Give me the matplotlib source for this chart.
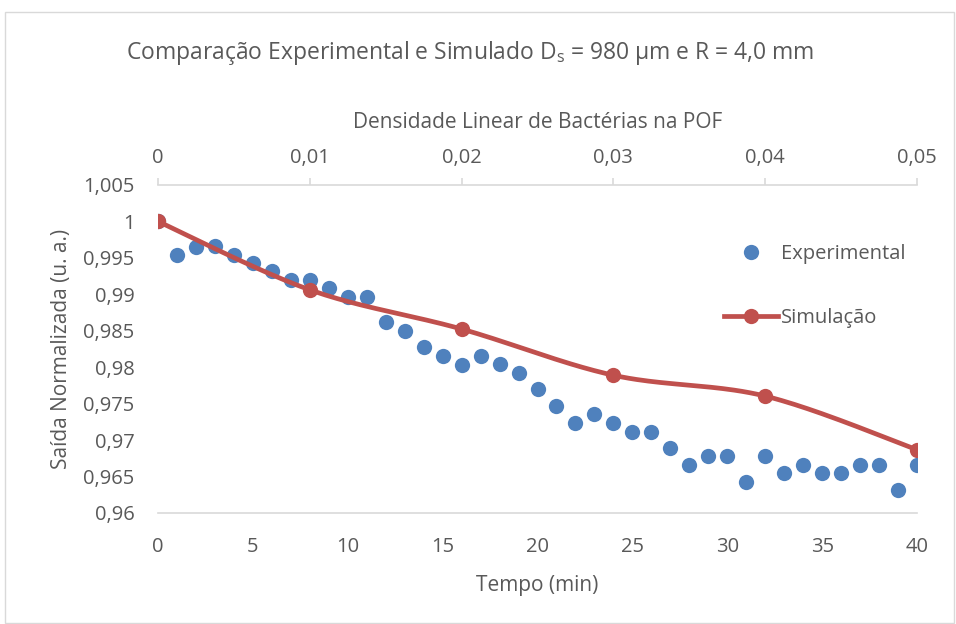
import numpy as np
import matplotlib
matplotlib.use("Agg")
import matplotlib.pyplot as plt
from matplotlib.lines import Line2D
from matplotlib.patches import Rectangle

plt.rcParams['font.family'] = ['Open Sans', 'DejaVu Sans']
plt.rcParams['mathtext.fontset'] = 'custom'
plt.rcParams['mathtext.rm'] = 'Open Sans'

# ---- data ----
tempo = list(range(0, 41))
experimental = [1.0, 0.99545, 0.99651, 0.99659, 0.99545, 0.99434, 0.99320, 0.99200, 0.99200, 0.99086,
                0.98970, 0.98970, 0.98617, 0.98501, 0.98276, 0.98156, 0.98037, 0.98156, 0.98041, 0.97927,
                0.97697, 0.97466, 0.97228, 0.97352, 0.97228, 0.97117, 0.97117, 0.96887, 0.96658, 0.96777,
                0.96777, 0.96423, 0.96777, 0.96542, 0.96658, 0.96542, 0.96542, 0.96658, 0.96658, 0.96317,
                0.96658]
densidade = [0.0, 0.01, 0.02, 0.03, 0.04, 0.05]
simulacao = [1.0, 0.99062, 0.98524, 0.97890, 0.97604, 0.96869]

y_ticks = [0.96, 0.965, 0.97, 0.975, 0.98, 0.985, 0.99, 0.995, 1.0, 1.005]
y_tick_labels = ['0,96', '0,965', '0,97', '0,975', '0,98', '0,985', '0,99', '0,995', '1', '1,005']
x_ticks = [0, 5, 10, 15, 20, 25, 30, 35, 40]
top_ticks = [0.0, 0.01, 0.02, 0.03, 0.04, 0.05]
top_tick_labels = ['0', '0,01', '0,02', '0,03', '0,04', '0,05']

BLUE = '#4F81BD'
RED = '#C0504D'
TXT = '#595959'
AXC = '#D9D9D9'
FS = 14.5


def smooth(x, y, n=40):
    x = np.asarray(x, float)
    y = np.asarray(y, float)
    px = np.concatenate([[x[0]], x, [x[-1]]])
    py = np.concatenate([[y[0]], y, [y[-1]]])
    xs, ys = [], []
    t = np.linspace(0, 1, n)
    for i in range(1, len(px) - 2):
        p0 = np.array([px[i], py[i]])
        p3 = np.array([px[i + 1], py[i + 1]])
        c1 = p0 + (np.array([px[i + 1], py[i + 1]]) - np.array([px[i - 1], py[i - 1]])) / 6
        c2 = p3 - (np.array([px[i + 2], py[i + 2]]) - np.array([px[i], py[i]])) / 6
        b = ((1 - t) ** 3)[:, None] * p0 + (3 * (1 - t) ** 2 * t)[:, None] * c1 + \
            (3 * (1 - t) * t ** 2)[:, None] * c2 + (t ** 3)[:, None] * p3
        xs.extend(b[:, 0]); ys.extend(b[:, 1])
    return np.array(xs), np.array(ys)


fig = plt.figure(figsize=(9.56, 6.24), dpi=100)
fig.patches.append(Rectangle((5 / 956, 1 / 624), 949 / 956, 611 / 624, transform=fig.transFigure,
                             fill=False, edgecolor='#D9D9D9', linewidth=1.0))
ax = fig.add_axes([158 / 956, 1 - 513 / 624, (917 - 158) / 956, (513 - 185) / 624])
ax.set_xlim(0, 40)
ax.set_ylim(0.96, 1.005)

ax.scatter(tempo, experimental, s=11 ** 2, color=BLUE, zorder=3, linewidths=0)

ax2 = ax.twiny()
ax2.set_xlim(0, 0.05)
sx, sy = smooth(densidade, simulacao)
ax2.plot(sx, sy, color=RED, linewidth=3.4, solid_capstyle='round', zorder=4)
ax2.plot(densidade, simulacao, 'o', color=RED, markersize=11, markeredgewidth=0, zorder=5)

for s in ['left', 'right', 'top']:
    ax.spines[s].set_visible(False)
ax.spines['bottom'].set_color(AXC)
ax.spines['bottom'].set_linewidth(1.2)
for s in ['left', 'right', 'bottom']:
    ax2.spines[s].set_visible(False)
ax2.spines['top'].set_color(AXC)
ax2.spines['top'].set_linewidth(1.2)

ax.set_xticks(x_ticks)
ax.set_xticklabels([str(v) for v in x_ticks])
ax.set_yticks(y_ticks)
ax.set_yticklabels(y_tick_labels)
ax.tick_params(axis='x', length=0, pad=17, labelsize=FS, colors=TXT)
ax.tick_params(axis='y', length=0, pad=17, labelsize=FS, colors=TXT)
ax2.set_xticks(top_ticks)
ax2.set_xticklabels(top_tick_labels)
ax2.tick_params(axis='x', length=5, width=1.2, color=AXC, pad=7, labelsize=FS, labelcolor=TXT)

ax.set_xlabel('Tempo (min)', fontsize=FS + 0.5, color=TXT, labelpad=13)
ax.set_ylabel('Saída Normalizada (u. a.)', fontsize=FS + 0.5, color=TXT, labelpad=8)
ax2.set_xlabel('Densidade Linear de Bactérias na POF', fontsize=FS + 0.5, color=TXT, labelpad=15)

fig.text(470 / 956, 1 - 53 / 624,
         r'Comparação Experimental e Simulado D$_\mathregular{s}$ = 980 µm e R = 4,0 mm',
         ha='center', va='center', fontsize=16.5, color=TXT)

handles = [Line2D([], [], linestyle='none', marker='o', color=BLUE, markersize=11, markeredgewidth=0),
           Line2D([], [], color=RED, linewidth=3.4, marker='o', markersize=11, markeredgewidth=0)]
leg = fig.legend(handles, ['Experimental', 'Simulação'], loc='upper left',
                 bbox_to_anchor=(724 / 956, 1 - 244 / 624), frameon=False, fontsize=FS,
                 handlelength=2.7, handletextpad=0.15, labelspacing=2.2, borderpad=0, borderaxespad=0)
for t in leg.get_texts():
    t.set_color(TXT)

fig.savefig('out.png', dpi=100)
